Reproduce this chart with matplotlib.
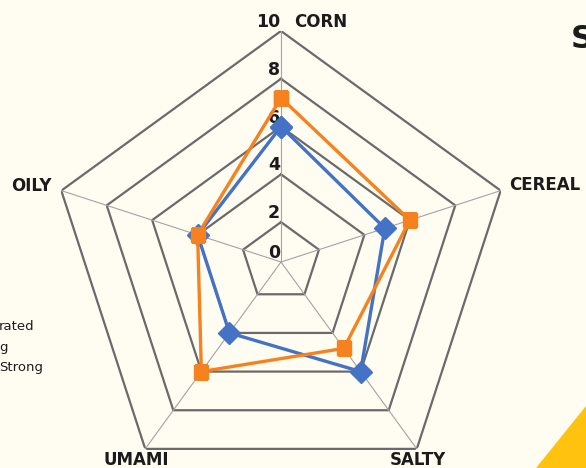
import numpy as np
import matplotlib.pyplot as plt
from matplotlib.patches import Polygon

categories = ['CORN', 'CEREAL', 'SALTY', 'UMAMI', 'OILY']
blue_vals = [6.0, 4.9, 6.0, 4.0, 4.0]
orange_vals = [7.2, 6.0, 4.8, 6.0, 4.0]
ring_levels = [2, 4, 6, 8, 10]
tick_labels = ['0', '2', '4', '6', '8', '10']

BG = '#FFFCF2'
INK = '#1b1b1b'
W, H = 586, 468

plt.rcParams['font.family'] = ['DejaVu Sans']

fig = plt.figure(figsize=(W / 100, H / 100), dpi=100, facecolor=BG)

# gold corner shape and cropped neighbouring texts
fig.patches.append(Polygon([(536 / W, 0), (1, 0), (1, 1 - 406 / H)],
                           closed=True, transform=fig.transFigure,
                           facecolor='#FFC20E', edgecolor='none'))
fig.text(571 / W, 1 - 40 / H, 'S', fontsize=23, fontweight='bold',
         color=INK, va='center', ha='left')
for txt, y in [('rated', 327), ('g', 347), ('Strong', 367)]:
    fig.text(-1 / W, 1 - y / H, txt, fontsize=9.5, color=INK,
             va='center', ha='left')

# polar axes centred on (281, 262) px, radius 231 px
cx, cy, R = 281, 262, 231
ax = fig.add_axes([(cx - R) / W, 1 - (cy + R) / H, 2 * R / W, 2 * R / H],
                  projection='polar')
ax.set_facecolor('none')
ax.set_theta_zero_location('N')
ax.set_theta_direction(-1)
rmin = 0.33
ax.set_ylim(rmin, 10)
ax.grid(False)
ax.spines['polar'].set_visible(False)
ax.set_xticks([])
ax.set_yticks([])

theta = np.linspace(0, 2 * np.pi, len(categories), endpoint=False)
closed = np.concatenate([theta, theta[:1]])

for lvl in ring_levels:
    ax.plot(closed, [lvl] * len(closed), color='#6a6a6a', lw=1.6, zorder=1)
for t in theta:
    ax.plot([t, t], [rmin, 10], color='#a3a3a3', lw=0.8, zorder=1)

# value labels on the top spoke
for i, lab in enumerate(tick_labels):
    r = max(i * 2, rmin)
    ax.annotate(lab, (0, r), xytext=(-1, 0), textcoords='offset pixels',
                ha='right', va='bottom', fontsize=12.5, fontweight='bold',
                color=INK, zorder=2)

ax.plot(closed, blue_vals + blue_vals[:1], color='#4472C4', lw=2.4,
        marker='D', markersize=11, zorder=3)
ax.plot(closed, orange_vals + orange_vals[:1], color='#F5821F', lw=2.4,
        marker='s', markersize=10.5, zorder=4)

offsets = {'CORN': (13, 9, 'left'), 'CEREAL': (8, 6, 'left'),
           'SALTY': (1, -11, 'center'), 'UMAMI': (-9, -11, 'center'),
           'OILY': (-10, 5, 'right')}
for t, cat in zip(theta, categories):
    dx, dy, ha = offsets[cat]
    ax.annotate(cat, (t, 10), xytext=(dx, dy), textcoords='offset pixels',
                ha=ha, va='center', fontsize=12, fontweight='bold',
                color=INK, annotation_clip=False, zorder=5)

fig.savefig('out.png', dpi=100, facecolor=BG)
